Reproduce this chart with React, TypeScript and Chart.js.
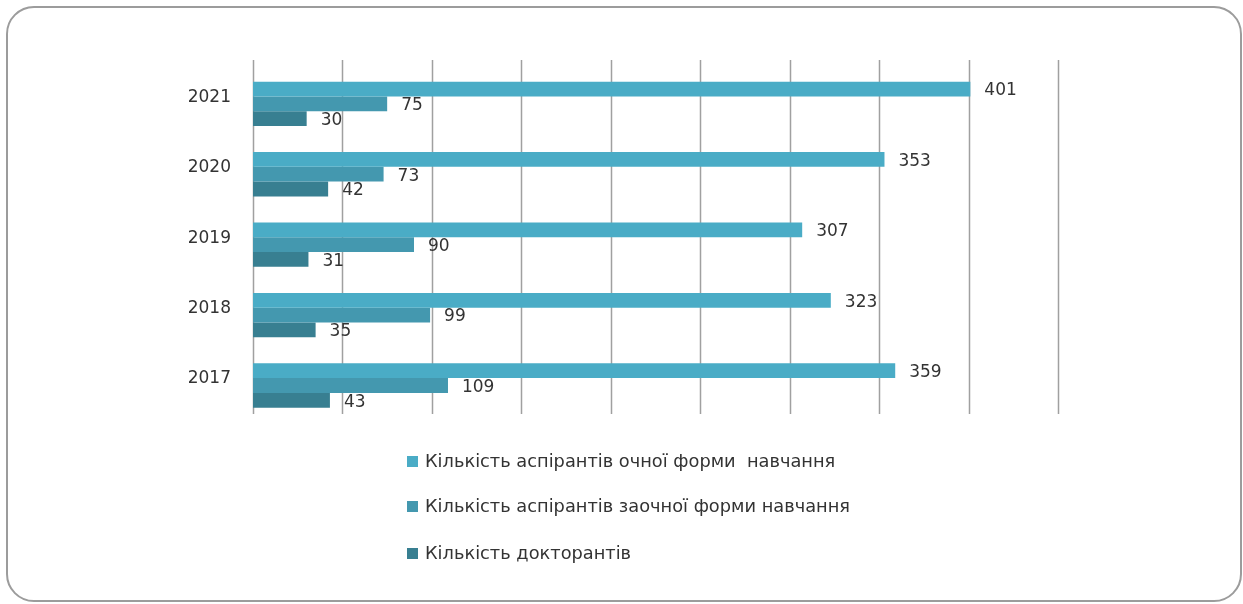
import React, { useEffect, useRef } from "react";
import { Chart, registerables } from "chart.js";

Chart.register(...registerables);

const categories = ["2021", "2020", "2019", "2018", "2017"];
const fullTime = [401, 353, 307, 323, 359];
const partTime = [75, 73, 90, 99, 109];
const doctoral = [30, 42, 31, 35, 43];
const seriesNames = [
  "Кількість аспірантів очної форми  навчання",
  "Кількість аспірантів заочної форми навчання",
  "Кількість докторантів",
];
const seriesColors = ["#4AACC6", "#4498AF", "#387F91"];
const gridValues = [0, 50, 100, 150, 200, 250, 300, 350, 400, 450];

const FONT = "'DejaVu Sans', sans-serif";

const gridPlugin = {
  id: "customGrid",
  beforeDatasetsDraw(chart: any) {
    const { ctx, chartArea, scales } = chart;
    ctx.save();
    ctx.strokeStyle = "#a0a0a0";
    ctx.lineWidth = 1.5;
    for (const v of gridValues) {
      const x = Math.round(scales.x.getPixelForValue(v)) + 0.5;
      ctx.beginPath();
      ctx.moveTo(x, chartArea.top - 8.6);
      ctx.lineTo(x, chartArea.bottom - 6.7);
      ctx.stroke();
    }
    ctx.restore();
  },
};

const valueLabelPlugin = {
  id: "valueLabels",
  afterDatasetsDraw(chart: any) {
    const { ctx } = chart;
    ctx.save();
    ctx.font = `17px ${FONT}`;
    ctx.fillStyle = "#333333";
    ctx.textAlign = "left";
    ctx.textBaseline = "middle";
    chart.data.datasets.forEach((ds: any, i: number) => {
      const meta = chart.getDatasetMeta(i);
      meta.data.forEach((bar: any, j: number) => {
        ctx.fillText(String(ds.data[j]), bar.x + 14, bar.y + 2);
      });
    });
    ctx.restore();
  },
};

export default function App() {
  const ref = useRef<HTMLCanvasElement | null>(null);

  useEffect(() => {
    if (!ref.current) return;
    const datasets = [fullTime, partTime, doctoral].map((d, i) => ({
      label: seriesNames[i],
      data: d,
      backgroundColor: seriesColors[i],
      borderWidth: 0,
      categoryPercentage: 0.63,
      barPercentage: 1,
    }));
    const chart = new Chart(ref.current, {
      type: "bar",
      data: { labels: categories, datasets },
      options: {
        indexAxis: "y",
        responsive: false,
        animation: false,
        devicePixelRatio: 1,
        layout: { padding: { top: 68.6, bottom: 183.3, left: 0, right: 185 } },
        plugins: {
          legend: { display: false },
          tooltip: { enabled: false },
        },
        scales: {
          x: {
            display: false,
            min: 0,
            max: 450,
          },
          y: {
            grid: { display: false, drawTicks: false, tickLength: 0 },
            border: { display: false },
            afterFit: (s: any) => {
              s.width = 253;
            },
            ticks: {
              padding: 22,
              labelOffset: -6.5,
              color: "#333333",
              font: { family: FONT, size: 17 },
            },
          },
        },
      },
      plugins: [gridPlugin, valueLabelPlugin],
    } as any);
    return () => chart.destroy();
  }, []);

  const legendTops = [451, 496, 543];

  return (
    <div style={{ position: "absolute", left: 0, top: 0, width: 1243, height: 604, overflow: "hidden", background: "#ffffff" }}>
      <canvas ref={ref} width={1243} height={604} style={{ position: "absolute", left: 0, top: 0, width: 1243, height: 604 }} />
      <div
        style={{
          position: "absolute",
          left: 6,
          top: 6,
          width: 1236,
          height: 596,
          boxSizing: "border-box",
          border: "2.5px solid #9c9c9c",
          borderRadius: 28,
          pointerEvents: "none",
        }}
      />
      {seriesNames.map((name, i) => (
        <div
          key={name}
          style={{
            position: "absolute",
            left: 407,
            top: legendTops[i],
            display: "flex",
            alignItems: "center",
            fontFamily: FONT,
            fontSize: 17.8,
            color: "#333333",
            whiteSpace: "pre",
            lineHeight: "20px",
          }}
        >
          <span style={{ display: "inline-block", width: 11, height: 11, background: seriesColors[i], marginRight: 7 }} />
          <span>{name}</span>
        </div>
      ))}
    </div>
  );
}
